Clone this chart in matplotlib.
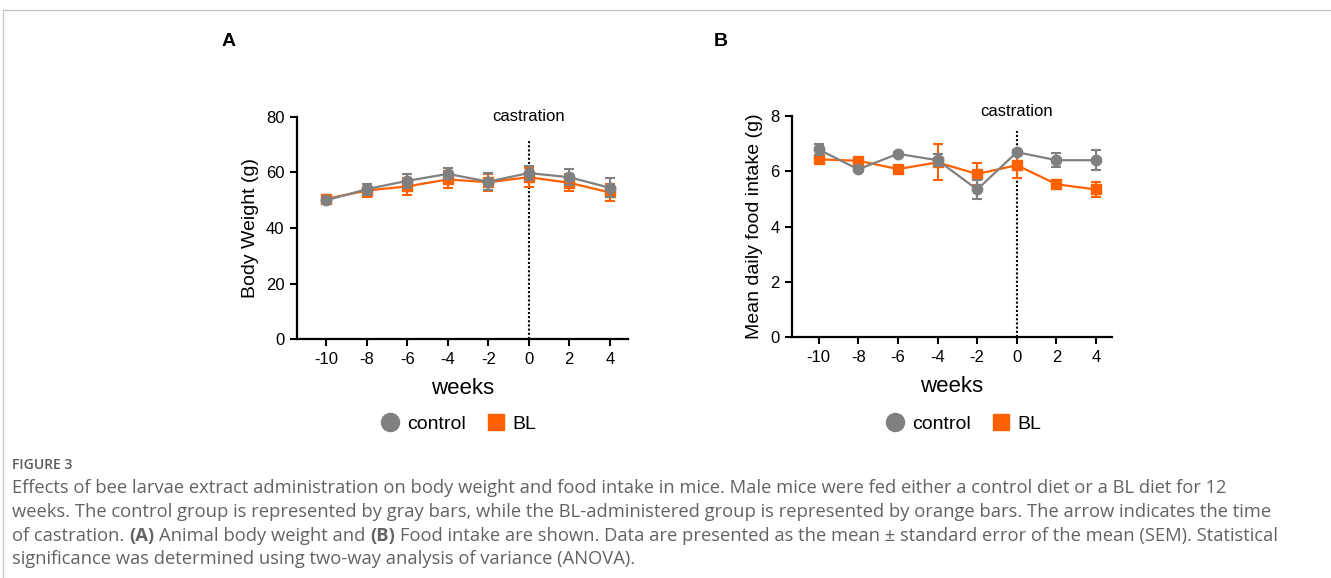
import matplotlib.pyplot as plt
from matplotlib.lines import Line2D

weeks = [-10, -8, -6, -4, -2, 0, 2, 4]

# body weight (g)
bw_control = [50.0, 54.0, 57.0, 59.5, 56.7, 59.8, 58.3, 54.5]
bw_control_sem = [1.0, 2.0, 2.5, 2.0, 3.0, 2.5, 2.8, 3.5]
bw_bl = [50.5, 53.5, 55.0, 57.5, 56.5, 58.3, 56.3, 52.8]
bw_bl_sem = [1.5, 2.5, 3.0, 3.0, 3.0, 3.4, 3.0, 3.0]

# mean daily food intake (g)
fi_control = [6.79, 6.07, 6.63, 6.40, 5.34, 6.69, 6.40, 6.40]
fi_control_sem = [0.20, 0.05, 0.05, 0.22, 0.33, 0.08, 0.25, 0.37]
fi_bl = [6.43, 6.38, 6.08, 6.32, 5.90, 6.22, 5.53, 5.34]
fi_bl_sem = [0.05, 0.06, 0.05, 0.65, 0.40, 0.47, 0.08, 0.27]

gray = '#808080'
orange = '#ff6000'

plt.rcParams['font.family'] = ['Liberation Sans', 'DejaVu Sans']
plt.rcParams['axes.unicode_minus'] = False

fig = plt.figure(figsize=(13.31, 5.78), dpi=100)
W, H = 1331, 578


def panel(rect, xlim, ctrl, ctrl_sem, bl, bl_sem, ymax, yticks, ylabel, line_top, text_y):
    ax = fig.add_axes(rect)
    ax.errorbar(weeks, bl, yerr=bl_sem, color=orange, marker='s', ms=7.5,
                lw=1.6, capsize=3.5, elinewidth=1.5, capthick=1.5, zorder=3)
    ax.errorbar(weeks, ctrl, yerr=ctrl_sem, color=gray, marker='o', ms=7.5,
                lw=1.6, capsize=3.5, elinewidth=1.5, capthick=1.5, zorder=4)
    ax.plot([0, 0], [0, line_top], color='black', lw=1.5, ls=(0, (1, 1)), zorder=2)
    ax.text(0, text_y, 'castration', ha='center', va='center', fontsize=12)
    ax.set_xlim(*xlim)
    ax.set_ylim(0, ymax)
    ax.set_xticks(weeks)
    ax.set_yticks(yticks)
    ax.set_ylabel(ylabel, fontsize=14, labelpad=5)
    ax.set_xlabel('weeks', fontsize=16, labelpad=8)
    for s in ['top', 'right']:
        ax.spines[s].set_visible(False)
    for s in ['left', 'bottom']:
        ax.spines[s].set_linewidth(1.6)
    ax.tick_params(width=1.5, length=5, labelsize=12, pad=4)
    ax.patch.set_alpha(0)
    return ax


panel([297 / W, 1 - 339 / H, 331 / W, 222 / H], (-11.45, 4.9),
      bw_control, bw_control_sem, bw_bl, bw_bl_sem,
      80, [0, 20, 40, 60, 80], 'Body Weight (g)', 71.5, 80.3)
panel([792 / W, 1 - 337 / H, 320 / W, 221 / H], (-11.34, 4.8),
      fi_control, fi_control_sem, fi_bl, fi_bl_sem,
      8, [0, 2, 4, 6, 8], 'Mean daily food intake (g)', 7.47, 8.15)

fig.text(222 / W, 1 - 42 / H, 'A', fontsize=14, fontweight='bold', ha='left', va='center')
fig.text(714 / W, 1 - 42 / H, 'B', fontsize=14, fontweight='bold', ha='left', va='center')

handles = [Line2D([], [], color=gray, marker='o', ls='none', ms=13),
           Line2D([], [], color=orange, marker='s', ls='none', ms=12)]
for cx in [456, 961]:
    fig.legend(handles, ['control', 'BL'], loc='center', ncol=2, frameon=False,
               bbox_to_anchor=(cx / W, 1 - 424 / H), fontsize=14,
               handletextpad=0.1, columnspacing=0.8, handlelength=1.5)

# card border
fig.add_artist(Line2D([3 / W, 1], [1 - 10 / H] * 2, color='#c8c8c8', lw=1))
fig.add_artist(Line2D([3 / W] * 2, [0, 1 - 10 / H], color='#c8c8c8', lw=1))

# caption
cap_font = 'Open Sans'
cap_color = '#636363'
cap_size = 13.25
fig.text(12 / W, 1 - 469 / H, 'FIGURE 3', fontsize=10, fontweight='semibold',
         color='#5a5a5a', family=cap_font, va='baseline')

renderer = fig.canvas.get_renderer()


def width_of(s, weight):
    t = fig.text(0, 0, s, fontsize=cap_size, fontweight=weight, family=cap_font)
    w = t.get_window_extent(renderer).width
    t.remove()
    return w


space = width_of('x x', 'normal') - width_of('xx', 'normal')


def caption_line(y, parts):
    x = 12
    for s, weight in parts:
        t = fig.text(x / W, 1 - y / H, s, fontsize=cap_size, fontweight=weight,
                     family=cap_font, color=cap_color, va='baseline')
        x += t.get_window_extent(renderer).width + space


caption_line(493, [('Effects of bee larvae extract administration on body weight and food intake in mice. '
                    'Male mice were fed either a control diet or a BL diet for 12', 'normal')])
caption_line(517, [('weeks. The control group is represented by gray bars, while the BL-administered group '
                    'is represented by orange bars. The arrow indicates the time', 'normal')])
caption_line(541, [('of castration.', 'normal'), ('(A)', 'bold'), ('Animal body weight and', 'normal'),
                   ('(B)', 'bold'), ('Food intake are shown. Data are presented as the mean \u00b1 standard '
                                     'error of the mean (SEM). Statistical', 'normal')])
caption_line(564, [('significance was determined using two-way analysis of variance (ANOVA).', 'normal')])

fig.savefig('out.png', dpi=100)
